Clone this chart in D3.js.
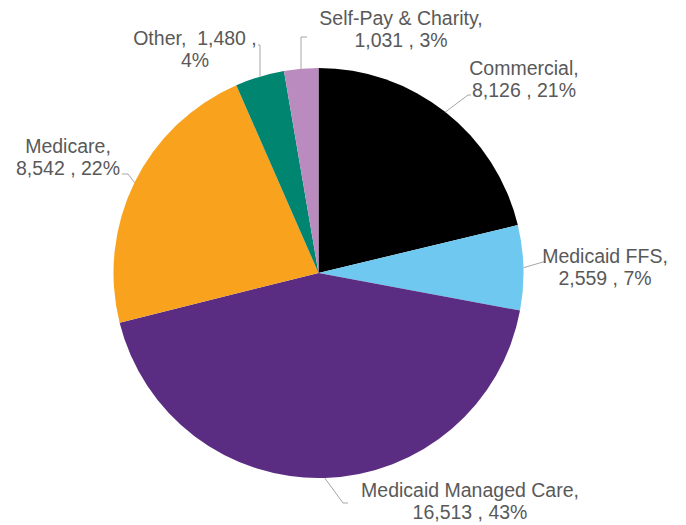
<!DOCTYPE html>
<html>
<head>
<meta charset="utf-8">
<script src="https://cdn.jsdelivr.net/npm/d3@7/dist/d3.min.js"></script>
<style>
  html, body { margin: 0; padding: 0; background: #ffffff; }
  svg { display: block; }
  text { font-family: "Liberation Sans", Arial, sans-serif; fill: #595959; }
</style>
</head>
<body>
<svg id="chart" width="686" height="525"></svg>
<script>
// Payer mix, clockwise from 12 o'clock
const categories = ["Commercial", "Medicaid FFS", "Medicaid Managed Care", "Medicare", "Other", "Self-Pay & Charity"];
const values = [8126, 2559, 16513, 8542, 1480, 1031];
const percents = ["21%", "7%", "43%", "22%", "4%", "3%"];
const colors = ["#000000", "#6EC8F0", "#5A2C82", "#F8A21E", "#008571", "#B98BBE"];

// Label text lines for each slice
const labelLines = [
  ["Commercial,", "8,126 , 21%"],
  ["Medicaid FFS,", "2,559 , 7%"],
  ["Medicaid Managed Care,", "16,513 , 43%"],
  ["Medicare,", "8,542 , 22%"],
  ["Other,  1,480 ,", "4%"],
  ["Self-Pay & Charity,", "1,031 , 3%"]
];

// Label anchor (centre of text block, first baseline) and leader line bends
const layout = [
  { x: 524, y: 75,  leader: [[1.0, 0], [468, 95], [471, 95]] },
  { x: 605, y: 263, leader: [[1.0, 0], [543, 262], [546, 262]] },
  { x: 470, y: 497, leader: [[1.0, 0], [343, 503], [348, 503]] },
  { x: 68,  y: 153, leader: [[1.0, 0], [128, 174], [122, 174]] },
  { x: 195, y: 45,  leader: [[1.0, 0], [260, 45], [258, 45]] },
  { x: 401, y: 25,  leader: [[1.0, 0], [301, 37], [307, 37]] }
];

const svg = d3.select("#chart");
const cx = 318.5, cy = 273, r = 205;

const pie = d3.pie().sort(null).value(d => d)
  .startAngle(0).endAngle(2 * Math.PI);
const arcs = pie(values);
const arc = d3.arc().innerRadius(0).outerRadius(r);

const g = svg.append("g").attr("transform", `translate(${cx},${cy})`);

g.selectAll("path.slice")
  .data(arcs)
  .join("path")
  .attr("class", "slice")
  .attr("d", arc)
  .attr("fill", (d, i) => colors[i]);

// Leader lines: start at the slice edge where the bend's x (or angle) meets it
arcs.forEach((a, i) => {
  const L = layout[i];
  let start;
  if (i === 4 || i === 5) {
    // vertical leader: start on circle at bend's x
    const bx = L.leader[1][0] - cx;
    start = [L.leader[1][0], cy - Math.sqrt(r * r - bx * bx)];
  } else {
    const mid = (a.startAngle + a.endAngle) / 2;
    const rr = r * L.leader[0][0];
    start = [cx + rr * Math.sin(mid), cy - rr * Math.cos(mid)];
  }
  const pts = [start, L.leader[1], L.leader[2]];
  svg.append("path")
    .attr("d", d3.line()(pts))
    .attr("fill", "none")
    .attr("stroke", "#a6a6a6")
    .attr("stroke-width", 1);
});

// Data labels
categories.forEach((c, i) => {
  const L = layout[i];
  const t = svg.append("text")
    .attr("text-anchor", "middle")
    .attr("font-size", "19.5px");
  labelLines[i].forEach((line, j) => {
    t.append("tspan")
      .attr("x", L.x)
      .attr("y", L.y + j * 22)
      .attr("xml:space", "preserve")
      .style("white-space", "pre")
      .text(line);
  });
});
</script>
</body>
</html>
